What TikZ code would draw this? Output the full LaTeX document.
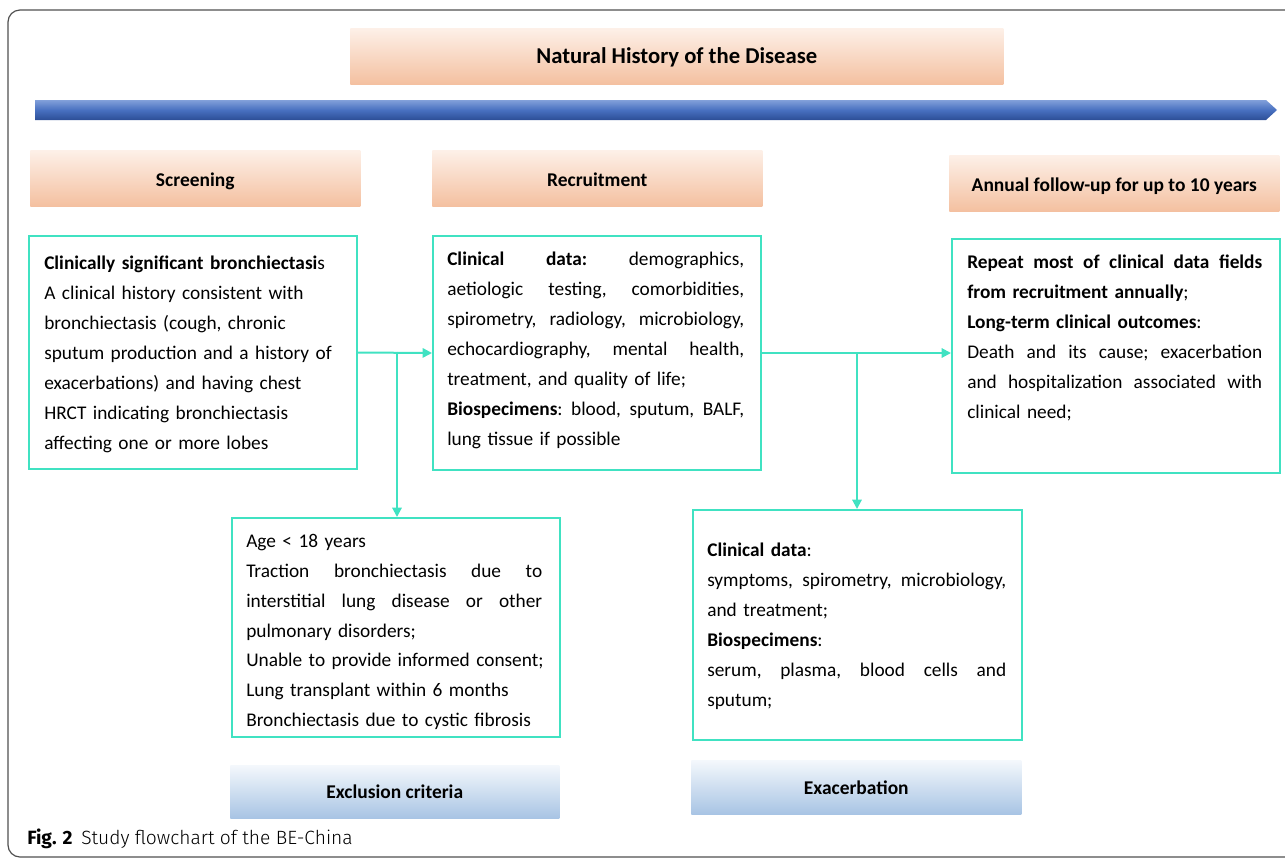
\documentclass[tikz,border=0pt]{standalone}
\usepackage{fontspec}
\setmainfont{Carlito}
\newfontfamily\capfont{Fira Sans Light}[BoldFont={Fira Sans Bold}]
\usetikzlibrary{arrows.meta}
\definecolor{tealline}{RGB}{64,226,194}
\definecolor{orTop}{RGB}{253,240,232}
\definecolor{orBot}{RGB}{244,192,160}
\definecolor{blTop}{RGB}{244,248,252}
\definecolor{blBot}{RGB}{168,196,228}
\definecolor{arTop}{RGB}{130,160,218}
\definecolor{arMid}{RGB}{72,112,192}
\definecolor{arBot}{RGB}{44,78,150}
\definecolor{frame}{RGB}{80,80,80}
\newcommand{\jl}[2][222pt]{\makebox[#1][s]{\frenchspacing\spaceskip=\fontdimen2\font plus 1fil\relax\xspaceskip=\spaceskip #2}}
\begin{document}
\begin{tikzpicture}[x=0.75pt,y=-0.75pt,
  txt/.style={font=\fontsize{14.5}{22.4}\selectfont},
  box/.style={draw=tealline, line width=1.5pt, anchor=north west, minimum width=246pt, inner sep=0pt},
  orhead/.style={anchor=north west, inner sep=0pt, top color=orTop, bottom color=orBot, minimum height=42pt, text height=12.5pt, text depth=0pt, font=\fontsize{14.6}{16}\selectfont\bfseries},
  blhead/.style={anchor=north west, inner sep=0pt, top color=blTop, bottom color=blBot, minimum height=40pt, text height=10.2pt, text depth=0pt, font=\fontsize{14.6}{16}\selectfont\bfseries},
  body/.style={txt, anchor=north west, inner sep=0pt, align=left, text width=245pt},
  conn/.style={draw=tealline, line width=1.5pt, -{Triangle[length=7pt,width=7pt]}}
]
\useasboundingbox (0,0) rectangle (1285,858);
% frame
\draw[frame, line width=0.9pt, rounded corners=9pt] (1300,10) -- (8,10) -- (8,857) -- (1300,857);

% title and timeline arrow
\node[orhead, minimum width=489.75pt, text height=11pt, font=\fontsize{17}{19}\selectfont\bfseries] (title) at (350,28) {Natural History of the Disease};
\shade[top color=arTop, bottom color=arBot, middle color=arMid] (35,100) -- (1266,100) -- (1277,110) -- (1266,120) -- (35,120) -- cycle;

% headers
\node[orhead, minimum width=247.5pt] (hs) at (30,150) {Screening};
\node[orhead, minimum width=247.5pt] (hr) at (432,150) {Recruitment};
\node[orhead, minimum width=247.5pt] (ha) at (949,155) {Annual follow-up for up to 10 years};
\node[blhead, minimum width=246.75pt, minimum height=39.75pt] (he) at (230,765) {Exclusion criteria};
\node[blhead, minimum width=247.5pt, minimum height=40.5pt] (hx) at (691,760) {Exacerbation};

% boxes
\node[box, minimum height=174.75pt] (b1) at (28,235) {};
\node[box, minimum height=175.5pt] (b2) at (432,235) {};
\node[box, minimum height=175.5pt] (b3) at (951,238) {};
\node[box, minimum height=164.25pt] (b4) at (231,517) {};
\node[box, minimum width=246.75pt, minimum height=172.5pt] (b5) at (692,509) {};

% texts
\node[body] (t1) at (44,256) {%
\textbf{Clinically significant bronchiectasi}s\\
A clinical history consistent with\\
bronchiectasis (cough, chronic\\
sputum production and a history of\\
exacerbations) and having chest\\
HRCT indicating bronchiectasis\\
affecting one or more lobes};

\node[body] (t2) at (447,252) {%
\jl[222.75pt]{\textbf{Clinical data:} demographics,}\\
\jl[222.75pt]{aetiologic testing, comorbidities,}\\
\jl[222.75pt]{spirometry, radiology, microbiology,}\\
\jl[222.75pt]{echocardiography, mental health,}\\
treatment, and quality of life;\\
\jl[222.75pt]{\textbf{Biospecimens}: blood, sputum, BALF,}\\
lung tissue if possible};

\node[body] (t3) at (967,255) {%
\jl[221.25pt]{\textbf{Repeat most of clinical data fields}}\\
\textbf{from recruitment annually};\\
\textbf{Long-term clinical outcomes}:\\
\jl[221.25pt]{Death and its cause; exacerbation}\\
\jl[221.25pt]{and hospitalization associated with}\\
clinical need;};

\node[body] (t4) at (246,534) {%
Age < 18 years\\
\jl{Traction bronchiectasis due to}\\
\jl{interstitial lung disease or other}\\
pulmonary disorders;\\
Unable to provide informed consent;\\
Lung transplant within 6 months\\
Bronchiectasis due to cystic fibrosis};

\node[body] (t5) at (707,543) {%
\textbf{Clinical data}:\\
\jl[224.25pt]{symptoms, spirometry, microbiology,}\\
and treatment;\\
\textbf{Biospecimens}:\\
\jl[224.25pt]{serum, plasma, blood cells and}\\
sputum;};

% connectors
\coordinate (j1) at (397,351.5);
\coordinate (j2) at (857,352);
\draw[conn] (b1.east) -- (b2.west);
\draw[conn] (j1) -- (j1 |- b4.north);
\draw[conn] (b2.east) -- (b2.east -| b3.west);
\draw[conn] (j2) -- (j2 |- b5.north);

% caption
\node[anchor=base west, inner sep=0pt, font=\capfont\fontsize{14.4}{16}\selectfont] (cap) at (27,844) {\textbf{Fig. 2}\hspace{0.45em}Study flowchart of the BE-China};
\end{tikzpicture}
\end{document}
